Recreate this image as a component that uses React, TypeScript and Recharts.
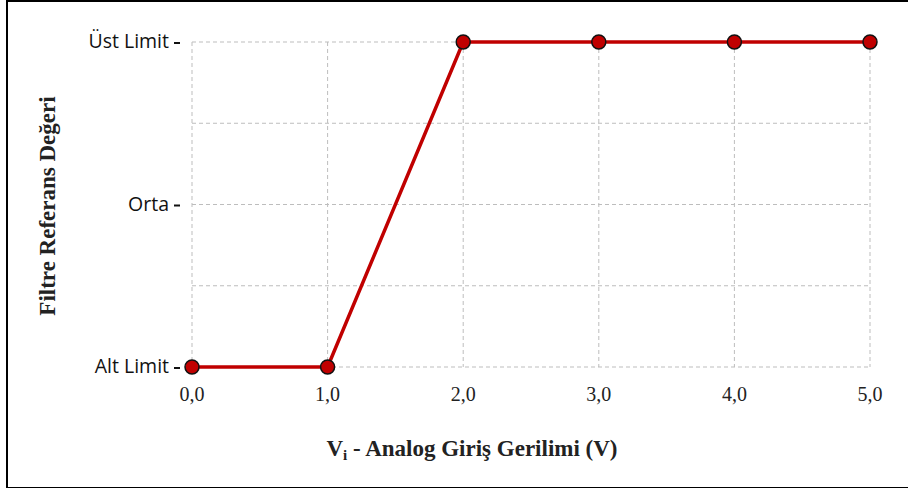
import { LineChart, Line, XAxis, YAxis, CartesianGrid, Label } from "recharts";

// giriş gerilimi (V)
const voltages = [0, 1, 2, 3, 4, 5];
// filtre referans seviyesi (0 = alt limit, 4 = üst limit)
const levels = [0, 0, 4, 4, 4, 4];
const xTicks = [0, 1, 2, 3, 4, 5];
const yTicks = [0, 1, 2, 3, 4];
const yTickLabels: Record<number, string> = { 0: "Alt Limit", 2: "Orta", 4: "Üst Limit" };

const data = voltages.map((v, i) => ({ v, level: levels[i] }));

const RED = "#C00000";
const SERIF = "'Liberation Serif', 'DejaVu Serif', serif";
const SANS = "'Open Sans', 'Noto Sans', sans-serif";

// eslint-disable-next-line @typescript-eslint/no-explicit-any
const YTick = (props: any) => {
  const { x, y, payload } = props;
  const label = yTickLabels[payload.value];
  if (!label) return null;
  return (
    <g>
      <text x={x - 15} y={y} dy={6} textAnchor="end" fill="#111" style={{ fontFamily: SANS, fontSize: 19.5 }}>
        {label}
      </text>
      <line x1={x - 10} x2={x - 4} y1={y + 1} y2={y + 1} stroke="#111" strokeWidth={2} />
    </g>
  );
};

export default function App() {
  return (
    <div style={{ position: "absolute", left: 0, top: 0, width: 908, height: 488, background: "#fff" }}>
      <div
        style={{
          position: "absolute",
          left: 6,
          top: 0,
          width: 902,
          height: 485,
          borderLeft: "2px solid #000",
          borderTop: "2px solid #000",
          borderBottom: "2px solid #000",
        }}
      />
      <LineChart
        width={908}
        height={488}
        data={data}
        margin={{ top: 42, right: 38, left: 0, bottom: 0 }}
        style={{ position: "absolute", left: 0, top: 0 }}
      >
        <CartesianGrid stroke="#bdbdbd" strokeDasharray="4 3" />
        <XAxis
          dataKey="v"
          type="number"
          domain={[0, 5]}
          ticks={xTicks}
          axisLine={false}
          tickLine={false}
          height={121}
          tickMargin={14}
          tick={{ fontFamily: SERIF, fontSize: 20, fill: "#222" }}
          tickFormatter={(v: number) => v.toFixed(1).replace(".", ",")}
        >
          <Label
            content={() => (
              <text x={472} y={456} textAnchor="middle" fill="#222" style={{ fontFamily: SERIF, fontWeight: "bold", fontSize: 23 }}>
                V<tspan style={{ fontSize: 15 }} dy={4}>i</tspan>
                <tspan dy={-4}> - Analog Giriş Gerilimi (V)</tspan>
              </text>
            )}
          />
        </XAxis>
        <YAxis
          type="number"
          domain={[0, 4]}
          ticks={yTicks}
          width={192}
          axisLine={false}
          tickLine={false}
          tick={<YTick />}
        >
          <Label
            content={() => (
              <text
                x={55}
                y={206}
                textAnchor="middle"
                transform="rotate(-90 55 206)"
                fill="#222"
                style={{ fontFamily: SERIF, fontWeight: "bold", fontSize: 23 }}
              >
                Filtre Referans Değeri
              </text>
            )}
          />
        </YAxis>
        <Line
          type="linear"
          dataKey="level"
          stroke={RED}
          strokeWidth={3.5}
          dot={{ r: 7, fill: RED, stroke: "#111", strokeWidth: 1.5 }}
          isAnimationActive={false}
        />
      </LineChart>
    </div>
  );
}
